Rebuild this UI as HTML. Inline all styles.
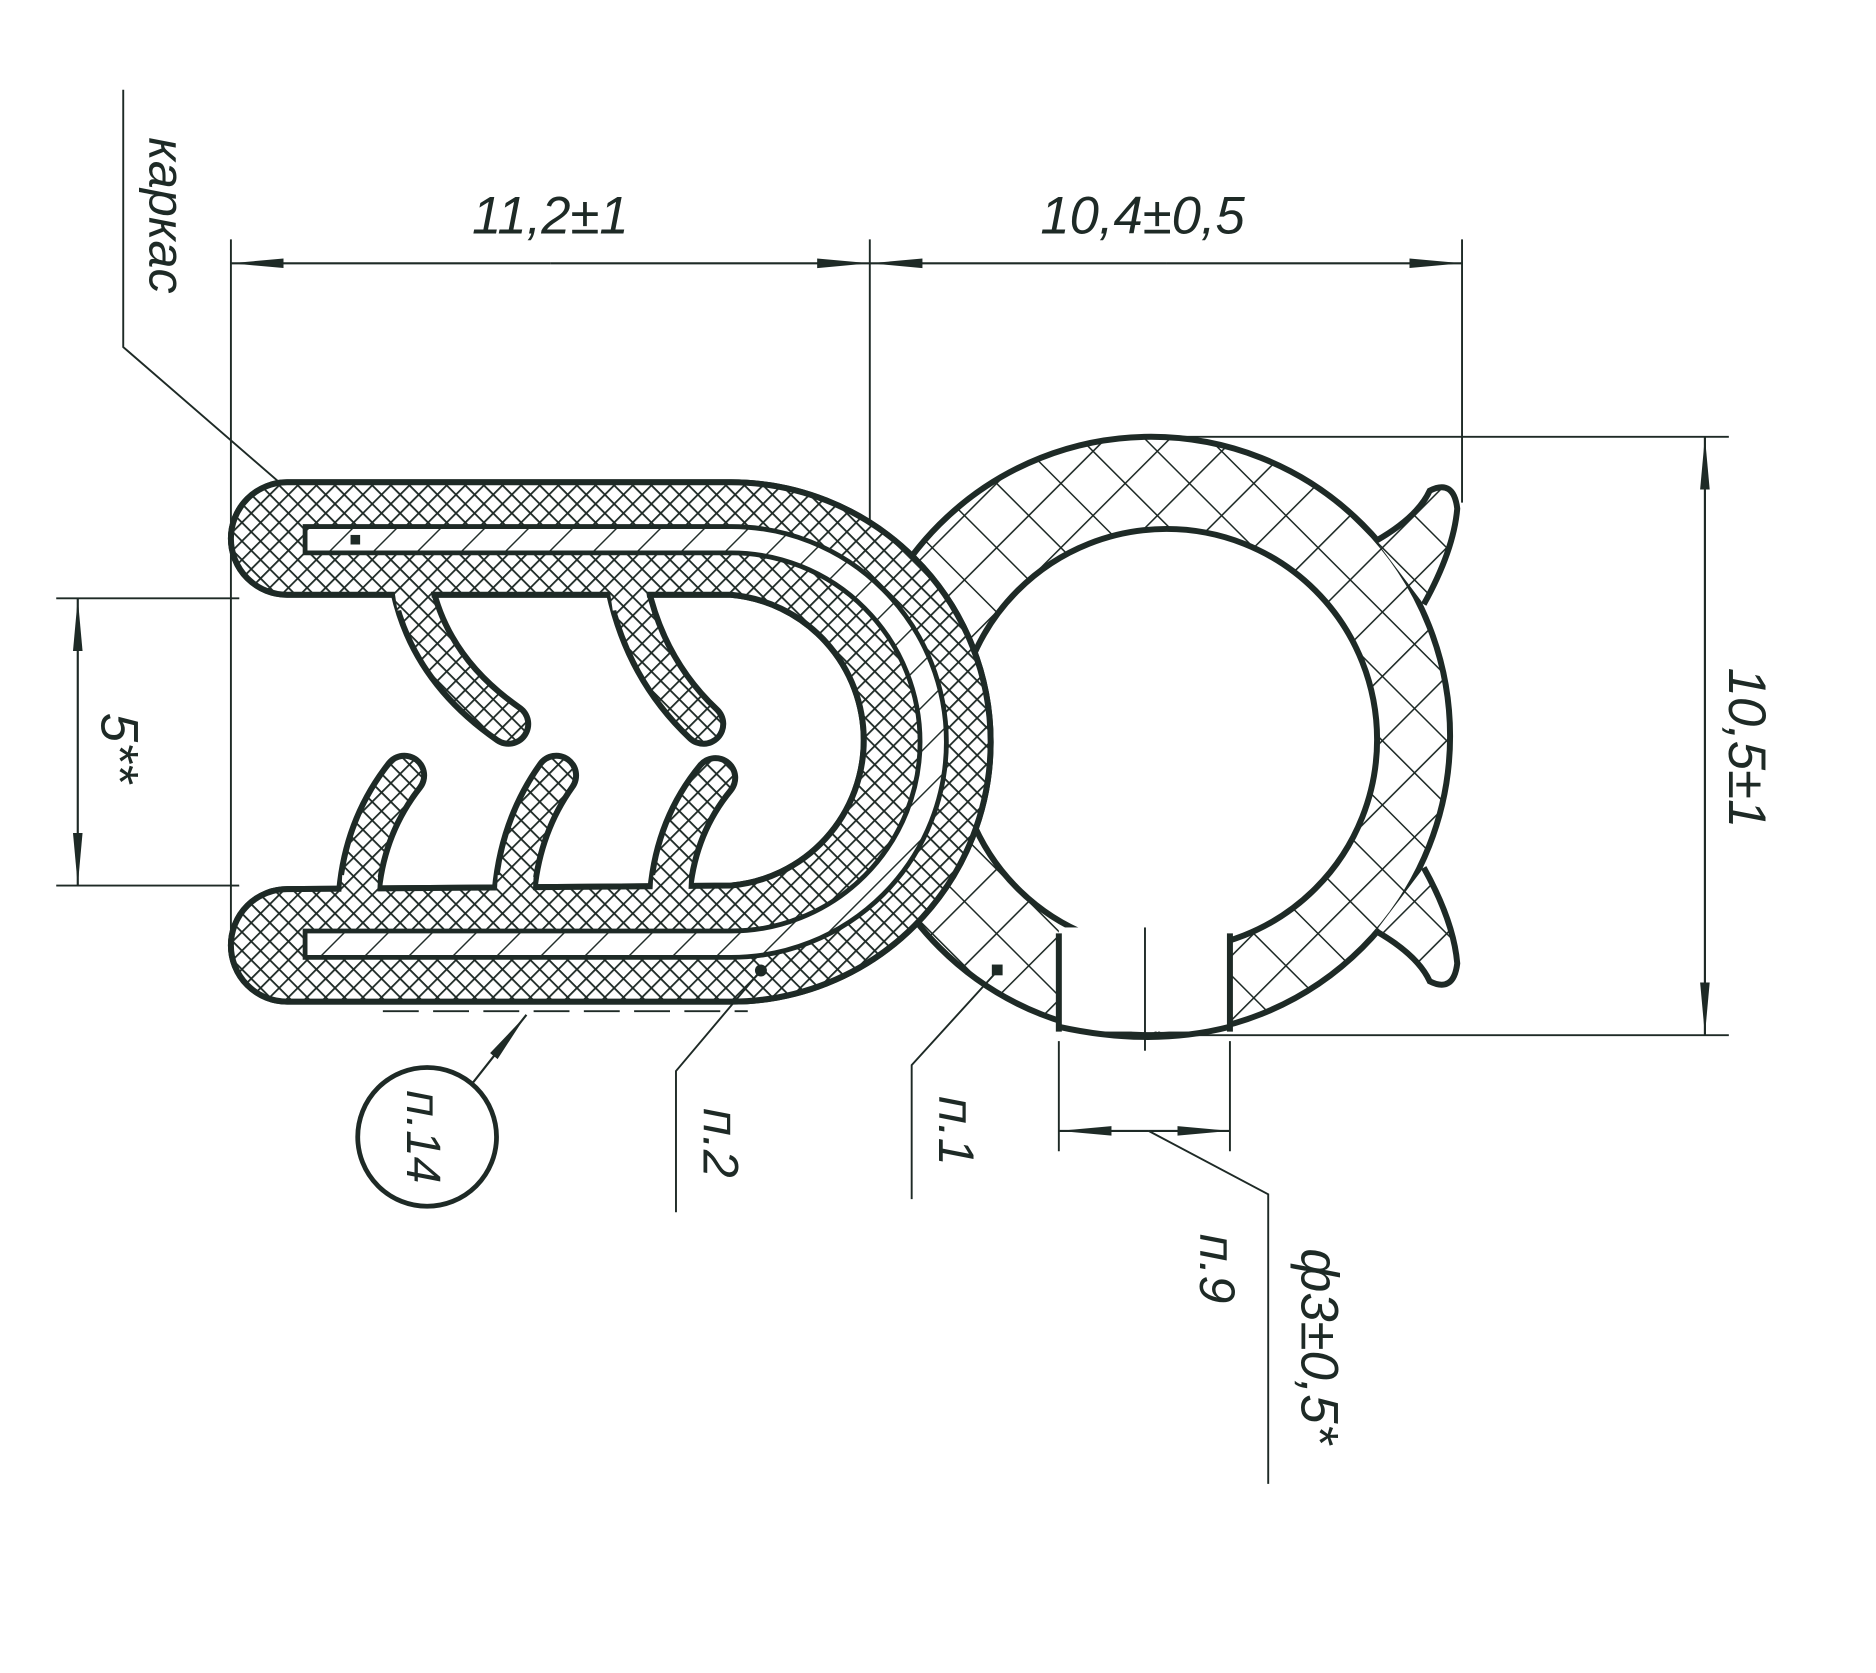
<!DOCTYPE html>
<html><head><meta charset="utf-8"><style>
html,body{margin:0;padding:0;background:#fff;}
svg{display:block;}
text{font-family:"Liberation Sans",sans-serif;font-style:italic;fill:#1e2a26;}
</style></head><body>
<svg width="1876" height="1673" viewBox="0 0 1568 1398" preserveAspectRatio="none" xmlns="http://www.w3.org/2000/svg">
<defs>
<pattern id="fine" width="11" height="11" patternUnits="userSpaceOnUse" patternTransform="rotate(45)">
<rect width="11" height="11" fill="#fff"/>
<path d="M0,0H11M0,0V11" stroke="#1e2a26" stroke-width="3"/>
</pattern>
<pattern id="coarse" width="38" height="38" patternUnits="userSpaceOnUse" patternTransform="rotate(45)">
<rect width="38" height="38" fill="#fff"/>
<path d="M0,0H38M0,0V38" stroke="#1e2a26" stroke-width="2.6"/>
</pattern>
<pattern id="diag" width="26" height="26" patternUnits="userSpaceOnUse" patternTransform="rotate(45)">
<rect width="26" height="26" fill="#fff"/>
<path d="M0,0V26" stroke="#1e2a26" stroke-width="2.4"/>
</pattern>
<marker id="ar" markerWidth="44" markerHeight="14" refX="44" refY="7" orient="auto" markerUnits="userSpaceOnUse">
<path d="M0,3 L44,7 L0,11 Z" fill="#1e2a26"/>
</marker>
</defs>
<g stroke="#1e2a26" fill="none">
<path d="M193,200V800M727,200V445M1222,200V420" stroke-width="1.6"/>
<path d="M960,365H1445M1000,865H1445" stroke-width="1.6"/>
<path d="M47,500H330M47,740H200" stroke-width="1.6"/>
<line x1="460" y1="220" x2="193" y2="220" stroke-width="1.8" marker-end="url(#ar)"/>
<line x1="460" y1="220" x2="727" y2="220" stroke-width="1.8" marker-end="url(#ar)"/>
<line x1="975" y1="220" x2="727" y2="220" stroke-width="1.8" marker-end="url(#ar)"/>
<line x1="975" y1="220" x2="1222" y2="220" stroke-width="1.8" marker-end="url(#ar)"/>
<line x1="1425" y1="615" x2="1425" y2="365" stroke-width="1.8" marker-end="url(#ar)"/>
<line x1="1425" y1="615" x2="1425" y2="865" stroke-width="1.8" marker-end="url(#ar)"/>
<line x1="65" y1="620" x2="65" y2="500" stroke-width="1.8" marker-end="url(#ar)"/>
<line x1="65" y1="620" x2="65" y2="740" stroke-width="1.8" marker-end="url(#ar)"/>
<path d="M103,75V290L290,452" stroke-width="1.6"/>

<!-- ring -->
<circle cx="962" cy="615" r="250" fill="url(#coarse)" stroke-width="5"/>
<path d="M1150,452 Q1185,432 1195,410 Q1215,400 1218,425 Q1215,460 1190,505 Z" fill="url(#coarse)" stroke="none"/>
<path d="M1150,452 Q1185,432 1195,410 Q1215,400 1218,425 Q1215,460 1190,505" stroke-width="5"/>
<path d="M1150,778 Q1185,798 1195,820 Q1215,830 1218,805 Q1215,770 1190,725 Z" fill="url(#coarse)" stroke="none"/>
<path d="M1150,778 Q1185,798 1195,820 Q1215,830 1218,805 Q1215,770 1190,725" stroke-width="5"/>
<circle cx="975" cy="618" r="176" fill="#fff" stroke-width="5"/>
<rect x="885" y="775" width="143" height="87" fill="#fff" stroke="none"/>
<path d="M885,780V862M1028,780V862" stroke-width="5"/>
<path d="M885,858 Q962,875 1028,858" stroke-width="5"/>
<path d="M957,775V878" stroke-width="1.6"/>
<rect x="829" y="806" width="9" height="9" fill="#1e2a26" stroke="none"/>

<!-- clamp -->
<path d="M200,497 L611,497 A122,122 0 0 1 611,740 L200,740 Z" fill="#fff" stroke="none"/>
<path id="body" d="M240,403 L611,403 A217,217 0 0 1 611,837 L240,837 A47,47 0 0 1 240,743 L611,740 A122,122 0 0 0 611,497 L240,497 A47,47 0 0 1 240,403 Z" fill="url(#fine)" stroke-width="5"/>
<g stroke-linecap="round">
<path d="M300,745 Q305,690 338,648 M430,745 Q435,690 465,648 M560,745 Q565,690 598,650 M345,492 Q360,560 425,605 M525,492 Q540,560 588,605" stroke-width="38"/>
<path d="M300,745 Q305,690 338,648 M430,745 Q435,690 465,648 M560,745 Q565,690 598,650 M345,492 Q360,560 425,605 M525,492 Q540,560 588,605" stroke="url(#fine)" stroke-width="28"/>
</g>
<path d="M240,403 L611,403 A217,217 0 0 1 611,837 L240,837 A47,47 0 0 1 240,743 L611,740 A122,122 0 0 0 611,497 L240,497 A47,47 0 0 1 240,403 Z" fill="url(#fine)" stroke="none"/>
<path d="M240,403 L611,403 A217,217 0 0 1 611,837 L240,837 A47,47 0 0 1 240,743 L611,740 A122,122 0 0 0 611,497 L240,497 A47,47 0 0 1 240,403 Z" stroke-width="5"/>
<path d="M300,752 L301,732 M430,752 L431,732 M560,752 L561,732 M344,488 L347,508 M524,488 L527,508" stroke="url(#fine)" stroke-width="30"/>
<path d="M255,440 L611,440 A180,180 0 0 1 611,800 L255,800 L255,778 L611,778 A158,158 0 0 0 611,462 L255,462 Z" fill="url(#diag)" stroke-width="4"/>
<rect x="293" y="447" width="8" height="8" fill="#1e2a26" stroke="none"/>
<circle cx="636" cy="811" r="5" fill="#1e2a26" stroke="none"/>

<path d="M320,845H625" stroke-width="1.6" stroke-dasharray="30,12"/>
<line x1="395" y1="905" x2="440" y2="848" stroke-width="1.8" marker-end="url(#ar)"/>
<circle cx="357" cy="950" r="58" stroke-width="4"/>
<path d="M635,812L565,895V1013" stroke-width="1.6"/>
<path d="M833,812L762,890V1002" stroke-width="1.6"/>
<path d="M885,870V962M1028,870V962" stroke-width="1.6"/>
<line x1="960" y1="945" x2="885" y2="945" stroke-width="1.8" marker-end="url(#ar)"/>
<line x1="960" y1="945" x2="1028" y2="945" stroke-width="1.8" marker-end="url(#ar)"/>
<path d="M960,945L1060,998V1240" stroke-width="1.6"/>
</g>
<text x="460" y="195" font-size="44" text-anchor="middle">11,2±1</text>
<text x="955" y="195" font-size="44" text-anchor="middle">10,4±0,5</text>
<text transform="translate(1445,625) rotate(90)" font-size="44" text-anchor="middle">10,5±1</text>
<text transform="translate(85,625) rotate(90)" font-size="44" text-anchor="middle">5**</text>
<text transform="translate(125,180) rotate(90)" font-size="42" text-anchor="middle">каркас</text>
<text transform="translate(340,950) rotate(90)" font-size="40" text-anchor="middle">п.14</text>
<text transform="translate(588,955) rotate(90)" font-size="42" text-anchor="middle">п.2</text>
<text transform="translate(785,945) rotate(90)" font-size="42" text-anchor="middle">п.1</text>
<text transform="translate(1003,1060) rotate(90)" font-size="42" text-anchor="middle">п.9</text>
<text transform="translate(1088,1125) rotate(90)" font-size="44" text-anchor="middle">ф3±0,5*</text>
</svg>
</body></html>
